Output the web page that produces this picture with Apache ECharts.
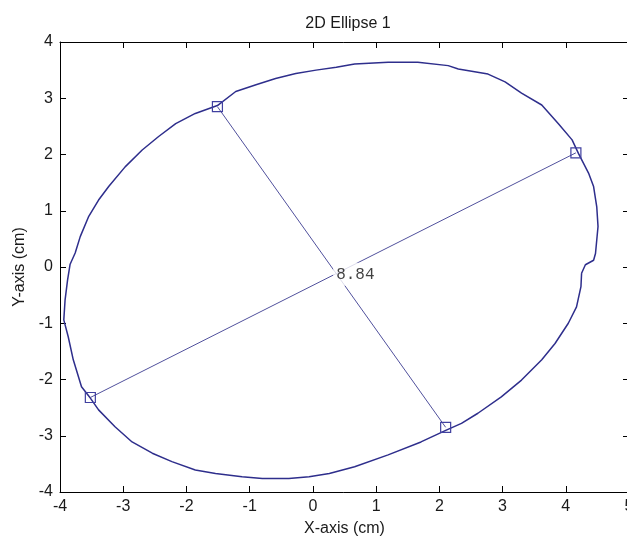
<!DOCTYPE html>
<html>
<head>
<meta charset="utf-8">
<script src="https://cdn.jsdelivr.net/npm/echarts@6/dist/echarts.min.js"></script>
<style>html,body{margin:0;padding:0;background:#fff;}#c{width:627px;height:538px;}</style>
</head>
<body>
<div id="c"></div>
<script>
const titleText = '2D Ellipse 1';
const xAxisName = 'X-axis (cm)';
const yAxisName = 'Y-axis (cm)';
const xRange = [-4, 5];
const yRange = [-4, 4];
const ellipsePoints = [
  [4.25,-0.11],[4.31,0.04],[4.44,0.12],[4.47,0.24],[4.51,0.72],[4.49,1.07],[4.44,1.43],[4.36,1.67],
  [4.20,2.02],[4.10,2.26],[3.88,2.55],[3.62,2.88],[3.30,3.09],[3.04,3.29],[2.77,3.43],[2.30,3.52],
  [2.14,3.58],[1.66,3.64],[1.19,3.64],[0.66,3.61],[0.37,3.55],[0.05,3.50],[-0.27,3.44],[-0.59,3.35],
  [-0.90,3.24],[-1.22,3.12],[-1.51,2.87],[-1.86,2.73],[-2.17,2.55],[-2.44,2.32],[-2.70,2.08],
  [-2.97,1.78],[-3.23,1.43],[-3.39,1.19],[-3.55,0.89],[-3.68,0.54],[-3.76,0.25],[-3.84,0.05],
  [-3.88,-0.23],[-3.92,-0.59],[-3.94,-0.94],[-3.87,-1.24],[-3.79,-1.65],[-3.66,-2.13],[-3.52,-2.33],
  [-3.39,-2.54],[-3.13,-2.84],[-2.86,-3.11],[-2.54,-3.31],[-2.23,-3.46],[-1.86,-3.61],[-1.54,-3.67],
  [-1.12,-3.73],[-0.80,-3.76],[-0.38,-3.76],[-0.06,-3.73],[0.26,-3.67],[0.66,-3.55],[1.19,-3.34],
  [1.71,-3.11],[2.11,-2.90],[2.35,-2.78],[2.61,-2.60],[2.98,-2.31],[3.30,-2.01],[3.62,-1.65],
  [3.83,-1.36],[4.04,-1.00],[4.17,-0.71],[4.24,-0.35],[4.25,-0.11]
];
const majorAxis = [[-3.52,-2.32],[4.16,2.03]];
const minorAxis = [[-1.51,2.85],[2.10,-2.85]];
const lengthLabel = '8.84';
const labelPos = [0.36,-0.13];

const font = "'Liberation Sans',Arial,sans-serif";
const txt = '#1a1a1a';
const lineCol = '#2e2e8c';
const axCol = '#50509c';

const chart = echarts.init(document.getElementById('c'), null, {renderer:'canvas'});
const baseAxis = {
  interval: 1,
  axisLine: {show:true, onZero:false, lineStyle:{color:'#000', width:1}},
  axisTick: {show:true, inside:true, length:6, lineStyle:{color:'#000'}},
  splitLine: {show:false}
};
chart.setOption({
  animation:false,
  title:{text:titleText, left:343, top:11, textAlign:'center',
    textStyle:{fontFamily:font, fontSize:16, fontWeight:'normal', color:txt}},
  grid:{left:60, top:42, right:-2, bottom:46, show:false, containLabel:false, outerBoundsMode:'none'},
  xAxis:[
    Object.assign({}, baseAxis, {type:'value', min:xRange[0], max:xRange[1], position:'bottom',
      name:xAxisName, nameLocation:'middle', nameGap:29,
      nameTextStyle:{fontFamily:font, fontSize:16, color:txt},
      axisLabel:{fontFamily:font, fontSize:16, color:txt, margin:7}}),
    Object.assign({}, baseAxis, {type:'value', min:xRange[0], max:xRange[1], position:'top',
      axisLabel:{show:false}})
  ],
  yAxis:[
    Object.assign({}, baseAxis, {type:'value', min:yRange[0], max:yRange[1], position:'left',
      name:yAxisName, nameLocation:'middle', nameGap:31, nameRotate:90,
      nameTextStyle:{fontFamily:font, fontSize:16, color:txt},
      axisLabel:{fontFamily:font, fontSize:16, color:txt, margin:7}}),
    Object.assign({}, baseAxis, {type:'value', min:yRange[0], max:yRange[1], position:'right',
      axisLabel:{show:false}})
  ],
  series:[
    {type:'line', data:ellipsePoints, showSymbol:false, smooth:false, clip:false,
      lineStyle:{color:lineCol, width:1.5}},
    {type:'line', data:majorAxis, symbol:'rect', symbolSize:10, showSymbol:true,
      lineStyle:{color:axCol, width:1},
      itemStyle:{color:'rgba(0,0,0,0)', borderColor:'#4040a0', borderWidth:1.2}},
    {type:'line', data:minorAxis, symbol:'rect', symbolSize:10, showSymbol:true,
      lineStyle:{color:axCol, width:1},
      itemStyle:{color:'rgba(0,0,0,0)', borderColor:'#4040a0', borderWidth:1.2}},
    {type:'scatter', data:[labelPos], symbolSize:1, itemStyle:{color:'rgba(0,0,0,0)'}, z:10,
      label:{show:true, formatter:lengthLabel, position:'right', distance:-3,
        fontFamily:"'Liberation Mono','DejaVu Sans Mono',monospace", fontSize:16, color:'#111',
        backgroundColor:'#fff', padding:[4,3,3,3]}}
  ]
});
</script>
</body>
</html>
